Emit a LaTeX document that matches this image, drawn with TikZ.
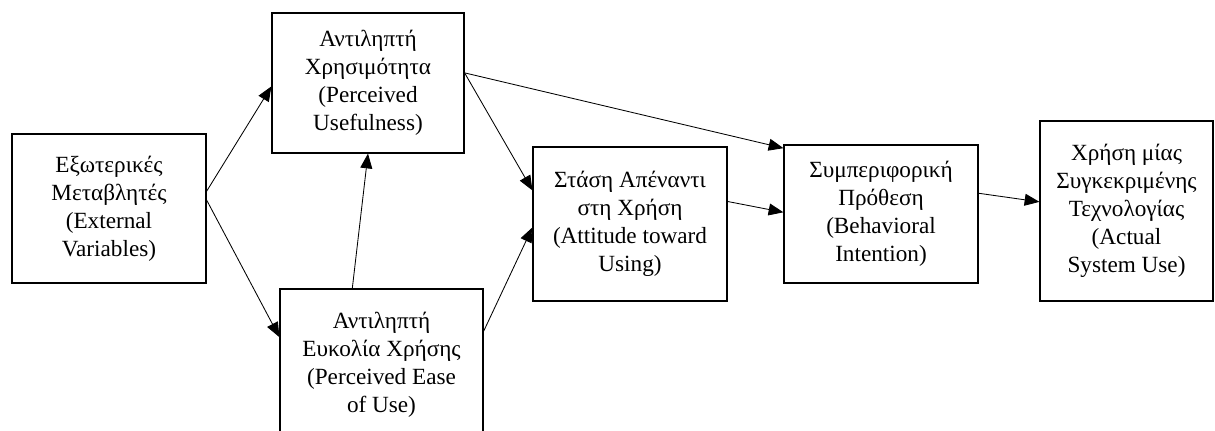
\documentclass[tikz,border=0pt]{standalone}
\usepackage{fontspec}
\setmainfont{Liberation Serif}
\usetikzlibrary{arrows.meta}
\tikzset{
  tambox/.style={draw, line width=0.8pt, align=center, inner sep=0pt,
    font=\fontsize{16.5}{20}\selectfont},
  link/.style={-{Triangle[length=10.5pt,width=8.5pt]}, line width=0.6pt}
}

\begin{document}
\begin{tikzpicture}[x=0.025cm, y=-0.025cm]
  \useasboundingbox (0,0) rectangle (1215,430);
  \clip (0,0) rectangle (1215,430);

  \node[tambox, minimum width=4.85cm, minimum height=3.725cm] (ext) at (109,208.5)
    {Εξωτερικές\\Μεταβλητές\\(External\\Variables)};
  \node[tambox, minimum width=4.8cm, minimum height=3.5cm] (pu) at (368,83)
    {Αντιληπτή\\Χρησιμότητα\\(Perceived\\Usefulness)};
  \node[tambox, minimum width=5.075cm, minimum height=3.775cm] (peou) at (381.5,364.5)
    {Αντιληπτή\\Ευκολία Χρήσης\\(Perceived Ease\\of Use)};
  \node[tambox, minimum width=4.85cm, minimum height=3.85cm] (att) at (630,224)
    {Στάση Απέναντι\\στη Χρήση\\(Attitude toward\\Using)};
  \node[tambox, minimum width=4.85cm, minimum height=3.45cm] (bi) at (881,214)
    {Συμπεριφορική\\Πρόθεση\\(Behavioral\\Intention)};
  \node[tambox, minimum width=4.325cm, minimum height=4.5cm] (asu) at (1126.5,211)
    {Χρήση μίας\\Συγκεκριμένης\\Τεχνολογίας\\(Actual\\System Use)};

  % connectors
  \draw[link] (ext.10) -- (pu.182);
  \draw[link] (ext.5) -- (peou.165);
  \draw[link] (peou.111) -- (pu.south);
  \draw[link] (pu.6) -- (att.161);
  \draw[link] (pu.6) -- (bi.146);
  \draw[link] (peou.18) -- (att.182);
  \draw[link] (att.13) -- (bi.179);
  \draw[link] (bi.12) -- (asu.174);
\end{tikzpicture}
\end{document}
